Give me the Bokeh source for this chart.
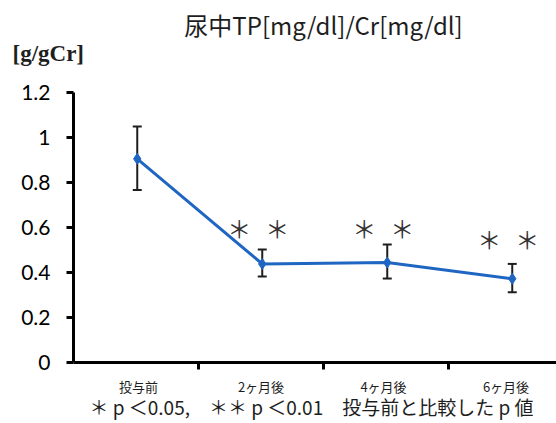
from bokeh.plotting import figure
from bokeh.models import Range1d, FixedTicker, Label, Whisker, TeeHead, ColumnDataSource, LinearAxis
from bokeh.embed import file_html
from bokeh.resources import INLINE

# ---- data ----
categories = ["投与前", "2ヶ月後", "4ヶ月後", "6ヶ月後"]
means = [0.903, 0.436, 0.442, 0.37]
err_upper = [1.047, 0.50, 0.522, 0.436]
err_lower = [0.765, 0.38, 0.371, 0.31]
sig_count = [0, 2, 2, 2]
sig_y = [None, 0.598, 0.598, 0.549]
y_ticks = [0, 0.2, 0.4, 0.6, 0.8, 1.0, 1.2]
y_tick_labels = ["0", "0.2", "0.4", "0.6", "0.8", "1", "1.2"]
title_text = "尿中TP[mg/dl]/Cr[mg/dl]"
unit_text = "[g/gCr]"
footnote = "＊ p ＜0.05,　＊＊ p ＜0.01　投与前と比較した p 値"

BLUE = "#1f66c2"
INK = "#1e1e1e"
JP = "Noto Sans CJK JP"

x_pos = [0.51 + i for i in range(len(categories))]
label_pos = [0.52 + 0.98 * i for i in range(len(categories))]

p = figure(width=556, height=423, output_backend="svg", toolbar_location=None,
           x_range=Range1d(-0.584, 3.864), y_range=Range1d(-0.2733, 1.6067),
           x_axis_location=None, y_axis_location=None,
           min_border=0, min_border_left=0, min_border_right=0,
           min_border_top=0, min_border_bottom=0)
p.outline_line_color = None
p.grid.visible = False
p.background_fill_color = "white"

# y axis
ya = LinearAxis(fixed_location=0)
ya.ticker = FixedTicker(ticks=y_ticks)
ya.major_label_overrides = {t: l for t, l in zip(y_ticks, y_tick_labels)}
ya.bounds = (0, 1.2)
ya.axis_line_width = 3
ya.axis_line_color = "black"
ya.major_tick_line_width = 3
ya.major_tick_line_color = "black"
ya.major_tick_out = 7
ya.major_tick_in = 0
ya.minor_tick_line_color = None
ya.major_label_standoff = 16
ya.major_label_text_font = "Lato"
ya.major_label_text_font_size = "21px"
ya.major_label_text_color = "black"
p.add_layout(ya, "left")

# x axis
xa = LinearAxis(fixed_location=0)
xa.ticker = FixedTicker(ticks=label_pos, minor_ticks=[1, 2, 3])
xa.major_label_overrides = {t: l for t, l in zip(label_pos, categories)}
xa.bounds = (0, 3.864)
xa.axis_line_width = 3
xa.axis_line_color = "black"
xa.major_tick_out = 0
xa.major_tick_in = 0
xa.major_tick_line_color = None
xa.minor_tick_out = 7
xa.minor_tick_in = 0
xa.minor_tick_line_width = 3
xa.minor_tick_line_color = "black"
xa.major_label_standoff = 8
xa.major_label_text_font = JP
xa.major_label_text_font_size = "13px"
xa.major_label_text_color = INK
p.add_layout(xa, "below")

# error bars
src = ColumnDataSource(dict(x=x_pos, y=means, upper=err_upper, lower=err_lower))
p.add_layout(Whisker(source=src, base="x", upper="upper", lower="lower",
                     line_color=INK, line_width=2,
                     upper_head=TeeHead(size=9, line_color=INK, line_width=2),
                     lower_head=TeeHead(size=9, line_color=INK, line_width=2)))

p.line("x", "y", source=src, line_color=BLUE, line_width=3)
p.scatter("x", "y", source=src, marker="diamond", size=11, fill_color=BLUE, line_color=BLUE)

# significance marks
offsets = [-0.184, 0.12]
for xp, n, sy in zip(x_pos, sig_count, sig_y):
    for k in range(n):
        p.add_layout(Label(x=xp + offsets[k], y=sy, text="＊", text_align="center",
                           text_baseline="middle", text_font=JP, text_font_size="24px",
                           text_font_style="normal", text_color="#333333"))

# title, unit, footnote
p.add_layout(Label(x=2.0, y=1.5, text=title_text, text_align="center", text_baseline="middle",
                   text_font=JP, text_font_size="24px", text_color=INK))
p.add_layout(Label(x=-0.488, y=1.371, text=unit_text, text_align="left", text_baseline="middle",
                   text_font="Liberation Serif", text_font_size="23px", text_font_style="bold",
                   text_color=INK))
p.add_layout(Label(x=1.904, y=-0.196, text=footnote, text_align="center", text_baseline="middle",
                   text_font=JP, text_font_size="19px", text_color=INK))

open("out.html", "w").write(file_html(p, INLINE))
